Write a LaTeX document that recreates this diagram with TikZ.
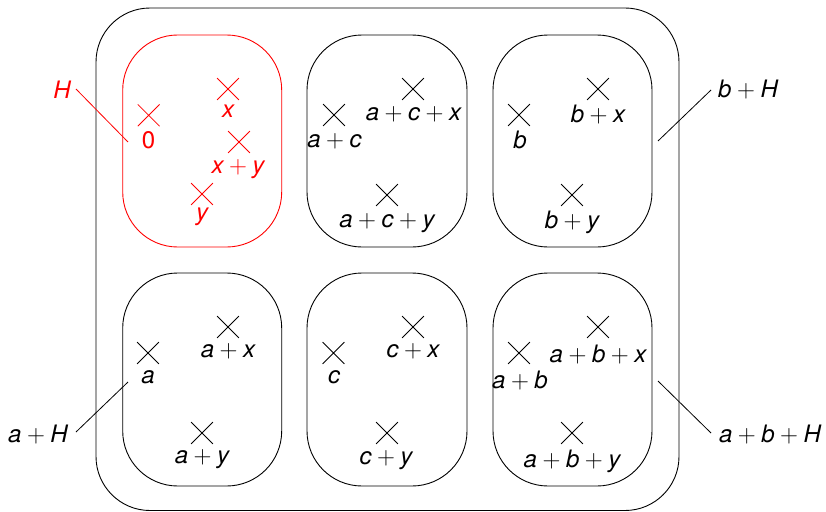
\documentclass[tikz,border=0pt]{standalone}
\usepackage{fontspec}
\setmainfont{TeX Gyre Heros}
\usetikzlibrary{shapes.misc}
\newcommand\vv[1]{\mbox{\itshape #1}}
\begin{document}
\begin{tikzpicture}[x=1pt,y=-1pt,line width=0.9pt,
  coset/.style={draw,rounded corners=55pt},
  pt/.style={cross out,draw,inner sep=0pt,minimum size=21pt,line width=0.8pt},
  lbl/.style={anchor=base,inner sep=0pt,font=\fontsize{24}{28}\selectfont},
  lead/.style={line width=0.8pt}]
\useasboundingbox (0,0) rectangle (826,511);
% outer box
\draw[rounded corners=54pt] (96,8) rectangle (679,510.5);
% coset boxes
\draw[coset,red] (122.7,35) rectangle (281.7,247);
\draw[coset] (307,35) rectangle (467,247);
\draw[coset] (493,35) rectangle (652,247);
\draw[coset] (122.7,273) rectangle (281.7,486);
\draw[coset] (307,273) rectangle (467,486);
\draw[coset] (493,273) rectangle (652,486);
% H
\begin{scope}[red]
\node[pt,red] (p0) at (148.7,115.3) {};
\node[lbl,red] (l0) at (148.5,148) {0};
\node[pt,red] (px) at (228,89) {};
\node[lbl,red] (lx) at (228,117) {$\vv{x}$};
\node[pt,red] (pxy) at (239,142) {};
\node[lbl,red] (lxy) at (238,173) {$\vv{x}+\vv{y}$};
\node[pt,red] (py) at (202,194) {};
\node[lbl,red] (ly) at (202,220) {$\vv{y}$};
\end{scope}
% a+c+H
\node[pt] (pac) at (334,115) {};
\node[lbl] (lac) at (334.5,147) {$\vv{a}+\vv{c}$};
\node[pt] (pacx) at (413,89) {};
\node[lbl] (lacx) at (413.5,120) {$\vv{a}+\vv{c}+\vv{x}$};
\node[pt] (pacy) at (387,195) {};
\node[lbl] (lacy) at (387,227) {$\vv{a}+\vv{c}+\vv{y}$};
% b+H
\node[pt] (pb) at (519,115) {};
\node[lbl] (lb) at (520,148) {$\vv{b}$};
\node[pt] (pbx) at (598,89) {};
\node[lbl] (lbx) at (598,122) {$\vv{b}+\vv{x}$};
\node[pt] (pby) at (572,195) {};
\node[lbl] (lby) at (572,228) {$\vv{b}+\vv{y}$};
% a+H
\node[pt] (pa) at (148,353) {};
\node[lbl] (la) at (148,383) {$\vv{a}$};
\node[pt] (pax) at (228,327) {};
\node[lbl] (lax) at (228,357) {$\vv{a}+\vv{x}$};
\node[pt] (pay) at (202,433) {};
\node[lbl] (lay) at (202,463) {$\vv{a}+\vv{y}$};
% c+H
\node[pt] (pc) at (333.5,353) {};
\node[lbl] (lc) at (334,383) {$\vv{c}$};
\node[pt] (pcx) at (413,327) {};
\node[lbl] (lcx) at (413,357) {$\vv{c}+\vv{x}$};
\node[pt] (pcy) at (387,433) {};
\node[lbl] (lcy) at (386,464) {$\vv{c}+\vv{y}$};
% a+b+H
\node[pt] (pab) at (519,353) {};
\node[lbl] (lab) at (520,388) {$\vv{a}+\vv{b}$};
\node[pt] (pabx) at (598,327) {};
\node[lbl] (labx) at (598,362) {$\vv{a}+\vv{b}+\vv{x}$};
\node[pt] (paby) at (572,433) {};
\node[lbl] (laby) at (572,467) {$\vv{a}+\vv{b}+\vv{y}$};
% coset labels and leaders
\node[lbl,red] (tH) at (62,98) {$\vv{H}$};
\coordinate (cH1) at (76,89); \coordinate (cH2) at (128,142);
\draw[lead,red] (cH1) -- (cH2);
\node[lbl] (tbH) at (748,97) {$\vv{b}+\vv{H}$};
\coordinate (cb1) at (711,90); \coordinate (cb2) at (658,141);
\draw[lead] (cb1) -- (cb2);
\node[lbl] (taH) at (38,442) {$\vv{a}+\vv{H}$};
\coordinate (ca1) at (76,432); \coordinate (ca2) at (128,382);
\draw[lead] (ca1) -- (ca2);
\node[lbl] (tabH) at (770,442) {$\vv{a}+\vv{b}+\vv{H}$};
\coordinate (cab1) at (711,433); \coordinate (cab2) at (658,381);
\draw[lead] (cab1) -- (cab2);
\end{tikzpicture}
\end{document}
